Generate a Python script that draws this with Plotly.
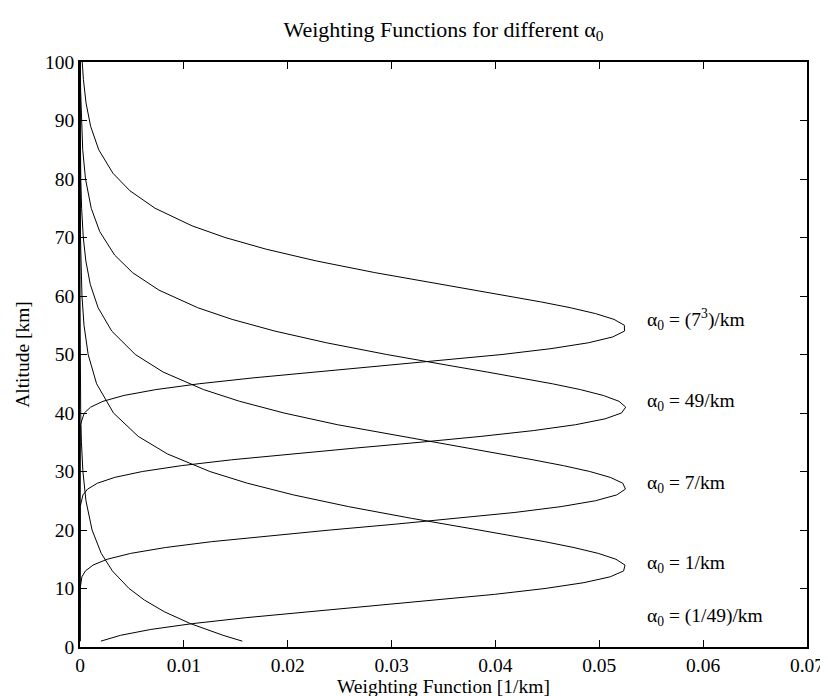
import plotly.graph_objects as go

# ---- data (weighting function [1/km] vs altitude [km]) ----
alt_a1_49 = [1, 2, 4, 6, 8, 10, 13, 16, 20, 25, 30, 35, 40, 50, 60, 70, 80, 90, 100]
w_a1_49 = [0.015631, 0.013775, 0.010632, 0.008151, 0.006218, 0.004726, 0.003116, 0.002046,
           0.001163, 0.000572, 0.000280, 0.000137, 0.0000673, 0.0000161, 0.0000039,
           0.0000009, 0.0000002, 0.00000005, 0.00000001]

alt_a1 = [1, 2, 3, 4, 5, 6, 7, 8, 9, 10, 11, 12, 13, 14, 15, 16, 17, 18, 19, 20,
          22, 24, 26, 28, 30, 33, 36, 40, 45, 50, 55, 60, 70, 80, 90, 100]
w_a1 = [0.002008, 0.003904, 0.006816, 0.010842, 0.015907, 0.021760, 0.028012, 0.034212,
        0.039921, 0.044775, 0.048526, 0.051052, 0.052341, 0.052479, 0.051607, 0.049905,
        0.047562, 0.044761, 0.041666, 0.038420, 0.031905, 0.025846, 0.020550, 0.016112,
        0.012500, 0.008421, 0.005607, 0.003223, 0.001597, 0.000786, 0.000386, 0.000189,
        0.0000454, 0.0000109, 0.0000026, 0.0000006]

alt_a7 = [1, 10, 12, 13, 14, 15, 16, 17, 18, 19, 20, 21, 22, 23, 24, 25, 26, 27, 28, 29,
          30, 31, 32, 33, 34, 36, 38, 40, 42, 44, 47, 50, 54, 58, 62, 66, 70, 75, 80, 90, 100]
w_a7 = [0.0, 0.0000133, 0.000185, 0.000520, 0.001249, 0.002617, 0.004877, 0.008207,
        0.012645, 0.018046, 0.024101, 0.030388, 0.036451, 0.041873, 0.046333, 0.049628,
        0.051682, 0.052522, 0.052259, 0.051051, 0.049084, 0.046547, 0.043617, 0.040450,
        0.037177, 0.030711, 0.024780, 0.019645, 0.015368, 0.011903, 0.008004, 0.005324,
        0.003058, 0.001743, 0.000990, 0.000561, 0.000317, 0.0001555, 0.0000761,
        0.0000182, 0.0000044]

alt_a49 = [1, 24, 26, 27, 28, 29, 30, 31, 32, 33, 34, 35, 36, 37, 38, 39, 40, 41, 42, 43,
           44, 45, 46, 47, 48, 50, 52, 54, 56, 58, 61, 64, 67, 71, 75, 80, 85, 90, 95, 100]
w_a49 = [0.0, 0.0000234, 0.000280, 0.000738, 0.001678, 0.003356, 0.006007, 0.009763,
         0.014592, 0.020285, 0.026481, 0.032736, 0.038601, 0.043691, 0.047726, 0.050553,
         0.052139, 0.052544, 0.051902, 0.050384, 0.048180, 0.045474, 0.042436, 0.039215,
         0.035931, 0.029535, 0.023742, 0.018768, 0.014651, 0.011329, 0.007606, 0.005053,
         0.003334, 0.001902, 0.001081, 0.000531, 0.000261, 0.000128, 0.0000625, 0.0000306]

alt_a343 = [1, 38, 40, 41, 42, 43, 44, 45, 46, 47, 48, 49, 50, 51, 52, 53, 54, 55, 56, 57,
            58, 59, 60, 61, 62, 64, 66, 68, 70, 72, 75, 78, 81, 85, 89, 93, 97, 100]
w_a343 = [0.0, 0.0000399, 0.000411, 0.001023, 0.002211, 0.004234, 0.007294, 0.011469,
          0.016659, 0.022591, 0.028863, 0.035021, 0.040633, 0.045350, 0.048940, 0.051297,
          0.052425, 0.052416, 0.051422, 0.049622, 0.047207, 0.044357, 0.041234, 0.037976,
          0.034695, 0.028384, 0.022736, 0.017926, 0.013966, 0.010783, 0.007228, 0.004797,
          0.003163, 0.001804, 0.001024, 0.000580, 0.000328, 0.000214]

series = [(w_a1_49, alt_a1_49), (w_a1, alt_a1), (w_a7, alt_a7), (w_a49, alt_a49), (w_a343, alt_a343)]

curve_labels = ["α<sub>0</sub> = (7<sup>3</sup>)/km", "α<sub>0</sub> = 49/km",
                "α<sub>0</sub> = 7/km", "α<sub>0</sub> = 1/km", "α<sub>0</sub> = (1/49)/km"]
label_altitudes = [56.0, 41.8, 27.8, 14.2, 5.1]

x_ticks = [0, 0.01, 0.02, 0.03, 0.04, 0.05, 0.06, 0.07]
x_tick_text = ["0", "0.01", "0.02", "0.03", "0.04", "0.05", "0.06", "0.07"]
y_ticks = [0, 10, 20, 30, 40, 50, 60, 70, 80, 90, 100]

FONT = "Liberation Serif, Times New Roman, serif"

fig = go.Figure()
for w, alt in series:
    fig.add_trace(go.Scatter(x=w, y=alt, mode="lines",
                             line=dict(color="black", width=1),
                             showlegend=False, hoverinfo="x+y"))

for txt, yv in zip(curve_labels, label_altitudes):
    fig.add_annotation(x=0.0544, y=yv, xref="x", yref="y", text=txt, showarrow=False,
                       xanchor="left", yanchor="middle",
                       font=dict(family=FONT, size=19.5, color="black"))

axis_common = dict(showgrid=False, zeroline=False, showline=True, linecolor="black",
                   linewidth=1.5, ticks="inside", ticklen=7, tickwidth=1,
                   tickcolor="black", mirror="ticks",
                   tickfont=dict(family=FONT, size=19.5, color="black"))

fig.update_layout(
    width=828, height=696,
    margin=dict(l=72, r=18, t=54, b=55),
    paper_bgcolor="white", plot_bgcolor="white",
    title=dict(text="Weighting Functions for different α<sub>0</sub>",
               x=0.5, xref="paper", y=0.97, yref="container", yanchor="middle",
               font=dict(family=FONT, size=22, color="black")),
    xaxis=dict(range=[0, 0.07], tickvals=x_ticks, ticktext=x_tick_text,
               title=dict(text="Weighting Function [1/km]", standoff=2,
                          font=dict(family=FONT, size=19.5, color="black")),
               **axis_common),
    yaxis=dict(range=[0, 100], tickvals=y_ticks,
               title=dict(text="Altitude [km]", standoff=10,
                          font=dict(family=FONT, size=19.5, color="black")),
               **axis_common),
)

fig.write_html("out.html")
